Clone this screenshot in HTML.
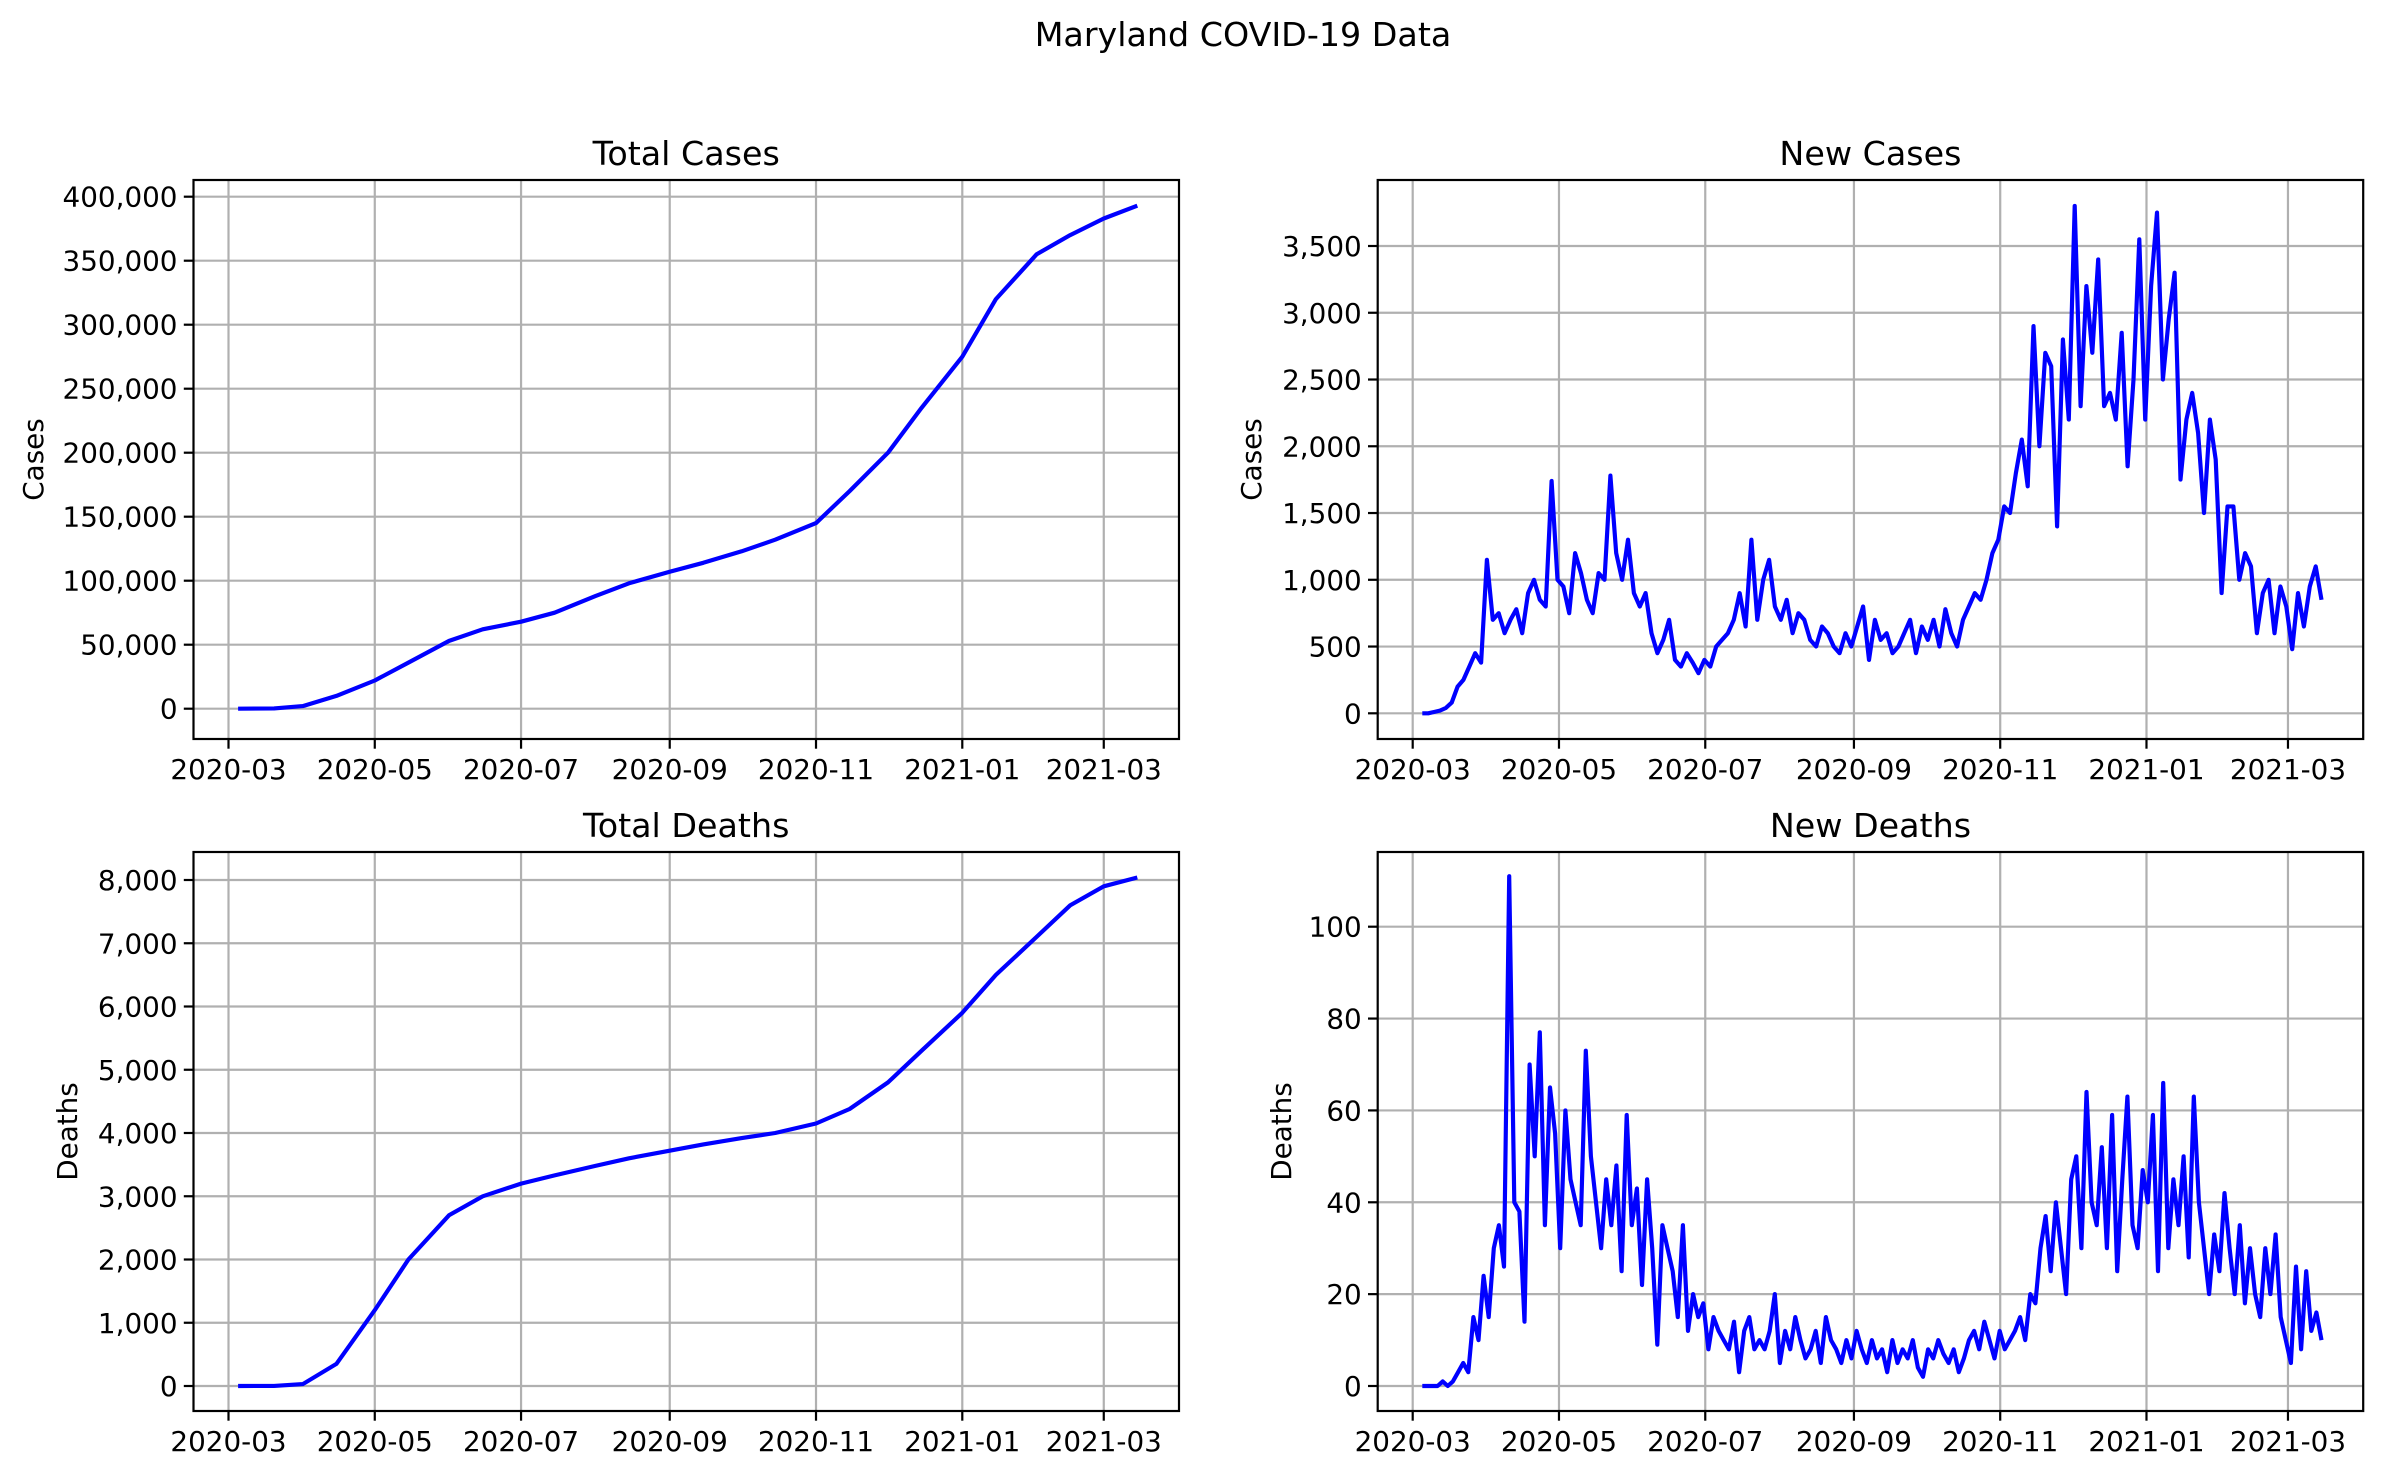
<!DOCTYPE html>
<html><head><meta charset="utf-8"><style>
body{margin:0;background:#fff;}
svg{display:block;font-family:"DejaVu Sans","Liberation Sans",sans-serif;}
</style></head><body>
<svg id="fig" width="2383" height="1479" viewBox="0 0 2383 1479" xmlns="http://www.w3.org/2000/svg">
<rect width="2383" height="1479" fill="#fff"/>
<text x="1243" y="46" font-size="33.3" text-anchor="middle">Maryland COVID-19 Data</text>
</svg>
<script>
const xTickLabels = ["2020-03","2020-05","2020-07","2020-09","2020-11","2021-01","2021-03"];
const startDate = "2020-03-05";
const endDate = "2021-03-15";

const totalCasesDates = ["2020-03-05","2020-03-20","2020-04-01","2020-04-15","2020-05-01","2020-05-15","2020-06-01","2020-06-15","2020-07-01","2020-07-15","2020-08-01","2020-08-15","2020-09-01","2020-09-15","2020-10-01","2020-10-15","2020-11-01","2020-11-15","2020-12-01","2020-12-15","2021-01-01","2021-01-15","2021-02-01","2021-02-15","2021-03-01","2021-03-15"];
const totalCasesValues = [0,200,2000,10000,22000,36000,53000,62000,68000,75000,88000,98000,107000,114000,123000,132000,145000,170000,200000,235000,275000,320000,355000,370000,383000,393000];
const totalDeathsValues = [0,2,30,350,1200,2000,2700,3000,3200,3330,3480,3600,3720,3820,3920,4000,4150,4380,4800,5300,5900,6500,7100,7600,7900,8040];

const newCasesValues = [0,0,10,20,40,80,200,250,350,450,380,1150,700,750,600,700,780,600,900,1000,850,800,1740,1000,950,750,1200,1050,850,750,1050,1000,1780,1200,1000,1300,900,800,900,600,450,550,700,400,350,450,380,300,400,350,500,550,600,700,900,650,1300,700,1000,1150,800,700,850,600,750,700,550,500,650,600,500,450,600,500,650,800,400,700,550,600,450,500,600,700,450,650,550,700,500,780,600,500,700,800,900,850,1000,1200,1300,1550,1500,1800,2050,1700,2900,2000,2700,2600,1400,2800,2200,3800,2300,3200,2700,3400,2300,2400,2200,2850,1850,2500,3550,2200,3200,3750,2500,2950,3300,1750,2200,2400,2100,1500,2200,1900,900,1550,1550,1000,1200,1100,600,900,1000,600,950,800,480,900,650,950,1100,850];
const newDeathsValues = [0,0,0,0,1,0,1,3,5,3,15,10,24,15,30,35,26,111,40,38,14,70,50,77,35,65,55,30,60,45,40,35,73,50,40,30,45,35,48,25,59,35,43,22,45,30,9,35,30,25,15,35,12,20,15,18,8,15,12,10,8,14,3,12,15,8,10,8,12,20,5,12,8,15,10,6,8,12,5,15,10,8,5,10,6,12,8,5,10,6,8,3,10,5,8,6,10,4,2,8,6,10,7,5,8,3,6,10,12,8,14,10,6,12,8,10,12,15,10,20,18,30,37,25,40,30,20,45,50,30,64,40,35,52,30,59,25,45,63,35,30,47,40,59,25,66,30,45,35,50,28,63,40,30,20,33,25,42,30,20,35,18,30,20,15,30,20,33,15,10,5,26,8,25,12,16,10];

const tcTicks=[0,50000,100000,150000,200000,250000,300000,350000,400000];
const ncTicks=[0,500,1000,1500,2000,2500,3000,3500];
const tdTicks=[0,1000,2000,3000,4000,5000,6000,7000,8000];
const ndTicks=[0,20,40,60,80,100];

const svg=document.getElementById('fig');
const NS="http://www.w3.org/2000/svg";
function mk(tag,attrs,parent){const e=document.createElementNS(NS,tag);for(const k in attrs)e.setAttribute(k,attrs[k]);(parent||svg).appendChild(e);return e;}
const DAY=86400000;
const t0=Date.parse("2020-03-01");
function fmt(v){return v.toLocaleString('en-US');}

function panel(o){
  const g=mk('g',{});
  
  
  const L=o.left,R=o.left+985.5,T=o.top,B=o.top+559;
  const pxDay=2.398, x0=L+35;
  const xs=d=>x0+(Date.parse(d)-t0)/DAY*pxDay;
  const xd=ms=>x0+(ms-t0)/DAY*pxDay;
  const ys=v=>o.y0+(o.yRef-o.y0)*v/o.vRef;
  xTickLabels.forEach(lbl=>{
    const x=xs(lbl+"-01");
    mk('line',{x1:x,x2:x,y1:T,y2:B,stroke:'#b0b0b0','stroke-width':2.2},g);
    mk('line',{x1:x,x2:x,y1:B,y2:B+9.7,stroke:'#000','stroke-width':2.2},g);
    const t=mk('text',{x:x,y:B+40,'font-size':27.8,'text-anchor':'middle'},g);t.textContent=lbl;
    
    
  });
  o.ticks.forEach(v=>{
    const y=ys(v);
    mk('line',{x1:L,x2:R,y1:y,y2:y,stroke:'#b0b0b0','stroke-width':2.2},g);
    mk('line',{x1:L-9.7,x2:L,y1:y,y2:y,stroke:'#000','stroke-width':2.2},g);
    const t=mk('text',{x:L-16,y:y+10,'font-size':27.8,'text-anchor':'end'},g);t.textContent=fmt(v);
    
    
  });
  let pts;
  if(o.dates){pts=o.values.map((v,i)=>xs(o.dates[i]).toFixed(1)+','+ys(v).toFixed(1));}
  else{const s=Date.parse(startDate),e=Date.parse(endDate),n=o.values.length;
    pts=o.values.map((v,i)=>xd(s+(e-s)*i/(n-1)).toFixed(1)+','+ys(v).toFixed(1));}
  const pl=mk('polyline',{points:pts.join(' '),fill:'none',stroke:'#0000ff','stroke-width':4.17,'stroke-linejoin':'round'},g);
  
  
  mk('rect',{x:L,y:T,width:R-L,height:B-T,fill:'none',stroke:'#000','stroke-width':2.2},g);
  const tt=mk('text',{x:(L+R)/2,y:T-15,'font-size':33.3,'text-anchor':'middle'},g);tt.textContent=o.title;
  
  
  const yl=mk('text',{x:0,y:0,'font-size':27.8,'text-anchor':'middle',transform:`translate(${o.ylx},${(T+B)/2}) rotate(-90)`},g);yl.textContent=o.ylabel;
  
  
}
panel({name:'total-cases-panel',title:'Total Cases',ylabel:'Cases',left:193.5,top:180,y0:708.7,yRef:196.7,vRef:400000,ticks:tcTicks,dates:totalCasesDates,values:totalCasesValues,ylx:43});
panel({name:'new-cases-panel',title:'New Cases',ylabel:'Cases',left:1377.7,top:180,y0:713.3,yRef:246,vRef:3500,ticks:ncTicks,values:newCasesValues,ylx:1261});
panel({name:'total-deaths-panel',title:'Total Deaths',ylabel:'Deaths',left:193.5,top:852,y0:1386,yRef:880,vRef:8000,ticks:tdTicks,dates:totalCasesDates,values:totalDeathsValues,ylx:77});
panel({name:'new-deaths-panel',title:'New Deaths',ylabel:'Deaths',left:1377.7,top:852,y0:1386,yRef:926.7,vRef:100,ticks:ndTicks,values:newDeathsValues,ylx:1291});
</script>
</body></html>
